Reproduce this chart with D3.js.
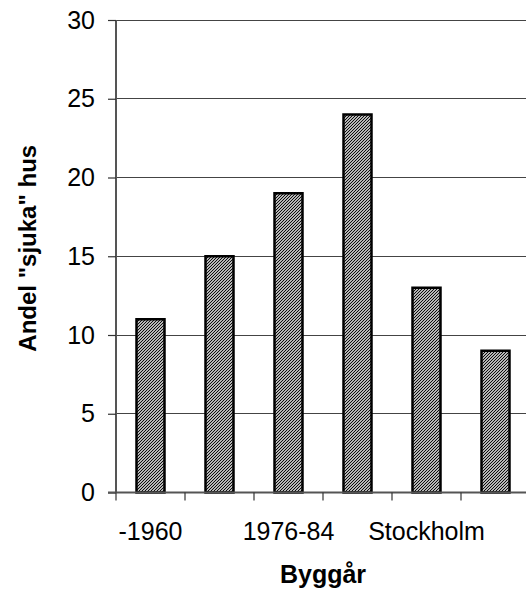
<!DOCTYPE html>
<html><head><meta charset="utf-8">
<script src="https://cdn.jsdelivr.net/npm/d3@7"></script>
<style>body{margin:0;background:#fff}svg{display:block}</style>
</head><body>
<script>
const categories = ["-1960", "1961-75", "1976-84", "1985-", "Stockholm", "Övriga"];
const values = [11, 15, 19, 24, 13, 9];
const yTicks = [0, 5, 10, 15, 20, 25, 30];
const yTitle = 'Andel "sjuka" hus';
const xTitle = "Byggår";

(function () {
const W = 526, H = 590;
const mLeft = 116, mTop = 20, plotW = 414, plotH = 472.5;
const svg = d3.select("body").append("svg").attr("width", W).attr("height", H);
const defs = svg.append("defs");
const pat = defs.append("pattern").attr("id", "hatch").attr("patternUnits", "userSpaceOnUse")
  .attr("width", 3).attr("height", 3);
pat.append("rect").attr("width", 3).attr("height", 3).attr("fill", "#fff");
pat.append("path").attr("d", "M-1,1 L1,-1 M0,3 L3,0 M2,4 L4,2")
  .attr("stroke", "#000").attr("stroke-width", 1.1);

const x = d3.scaleBand().domain(categories).range([mLeft, mLeft + plotW]).paddingInner(0).paddingOuter(0);
const y = d3.scaleLinear().domain([0, 30]).range([mTop + plotH, mTop]);
const font = "Arial, 'Liberation Sans', sans-serif";

// gridlines
svg.append("g").selectAll("line").data(yTicks.filter(d => d > 0)).join("line")
  .attr("x1", mLeft).attr("x2", W).attr("y1", d => y(d)).attr("y2", d => y(d))
  .attr("stroke", "#444").attr("stroke-width", 1).attr("shape-rendering", "crispEdges");

// bars
const bw = 28;
svg.append("g").selectAll("rect").data(values).join("rect")
  .attr("x", (d, i) => x(categories[i]) + x.bandwidth() / 2 - bw / 2)
  .attr("y", d => y(d)).attr("width", bw).attr("height", d => y(0) - y(d))
  .attr("fill", "url(#hatch)").attr("stroke", "#000").attr("stroke-width", 2.5);

// y axis
const yAxis = svg.append("g").attr("transform", `translate(${mLeft},0)`)
  .call(d3.axisLeft(y).tickValues(yTicks).tickSize(8).tickPadding(13));
yAxis.select(".domain").attr("stroke", "#555").attr("stroke-width", 2).attr("d", `M0,${y(30)}V${y(0)}`);
yAxis.selectAll(".tick line").attr("stroke", "#333").attr("stroke-width", 1.2);
yAxis.selectAll("text").attr("font-family", font).attr("font-size", 25).attr("fill", "#000");

// x axis
const xAxis = svg.append("g").attr("transform", `translate(0,${y(0)})`);
xAxis.append("line").attr("x1", mLeft - 8).attr("x2", W).attr("y1", 0).attr("y2", 0)
  .attr("stroke", "#555").attr("stroke-width", 2);
xAxis.selectAll("line.tk").data(categories).join("line").attr("class", "tk")
  .attr("x1", d => x(d)).attr("x2", d => x(d)).attr("y1", 0).attr("y2", 8)
  .attr("stroke", "#333").attr("stroke-width", 1.2);
xAxis.selectAll("text").data(categories.filter((d, i) => i % 2 === 0)).join("text")
  .attr("x", d => x(d) + x.bandwidth() / 2).attr("y", 47.5)
  .attr("text-anchor", "middle").attr("font-family", font).attr("font-size", 25).text(d => d);

// titles
svg.append("text").attr("x", mLeft + plotW / 2).attr("y", 583).attr("text-anchor", "middle")
  .attr("font-family", font).attr("font-size", 25).attr("font-weight", "bold").text(xTitle);
svg.append("text").attr("transform", `translate(36,${mTop + plotH / 2 - 8}) rotate(-90)`)
  .attr("text-anchor", "middle").attr("font-family", font).attr("font-size", 24)
  .attr("font-weight", "bold").text(yTitle);
})();
</script>
</body></html>
